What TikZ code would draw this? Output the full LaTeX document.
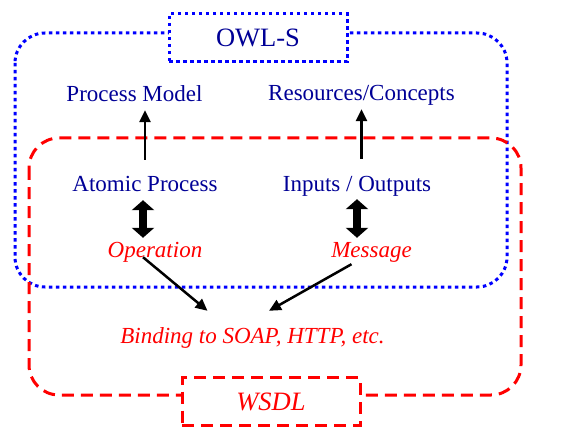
\documentclass[tikz,border=0pt]{standalone}
\usepackage{fontspec}
\setmainfont{Liberation Serif}
\usetikzlibrary{arrows.meta}
\definecolor{owlline}{RGB}{0,0,255}
\definecolor{owltext}{RGB}{0,0,150}
\definecolor{wsdlred}{RGB}{255,0,0}

\begin{document}
\begin{tikzpicture}[x=1pt,y=-1pt,
  owlframe/.style={draw=owlline,line width=3pt,dash pattern=on 3.5pt off 3.5pt},
  wsdlframe/.style={draw=wsdlred,line width=3pt,dash pattern=on 12pt off 7pt},
  owllabel/.style={text=owltext,font=\fontsize{23}{27}\selectfont,anchor=base,
    text height=17pt,text depth=5pt,inner sep=3pt},
  wsdllabel/.style={owllabel,text=wsdlred,font=\fontsize{23}{27}\selectfont\itshape},
  titlebox/.style={fill=white,minimum width=178pt,minimum height=48pt,inner sep=0pt,
    font=\fontsize{26.5}{30}\selectfont},
  thinarrow/.style={line width=2.5pt,-{Triangle[length=12pt,width=11pt]}},
  bigarrow/.style={line width=8pt,{Triangle[length=10pt,width=22pt]}-{Triangle[length=10pt,width=22pt]}}]
\useasboundingbox (0,0) rectangle (582,428);

% the two frames
\draw[owlframe,rounded corners=30pt] (15,33) rectangle (507,287);
\draw[wsdlframe,rounded corners=30pt] (29,138) rectangle (521,395);

\node[titlebox,owlframe,text=owltext] (owls) at (258,38) {OWL-S};
\node[titlebox,wsdlframe,text=wsdlred,font=\fontsize{26.5}{30}\selectfont\itshape] (wsdl) at (271,401.5) {WSDL};

% labels
\node[owllabel] (model) at (134.5,102) {Process Model};
\node[owllabel] (concepts) at (361.5,101) {Resources/Concepts};
\node[owllabel] (atomic) at (145,192) {Atomic Process};
\node[owllabel] (inout) at (357,191) {Inputs / Outputs};
\node[wsdllabel] (operation) at (155,258) {Operation};
\node[wsdllabel] (message) at (371.5,258) {Message};
\node[wsdllabel] (binding) at (252.5,343) {Binding to SOAP, HTTP, etc.};

% connectors
\draw[thinarrow] ([yshift=12pt]atomic.north) -- (atomic.north |- model.south);
\draw[thinarrow] ([yshift=12pt]concepts.south |- inout.north) -- (concepts.south);
\draw[bigarrow] ([xshift=-2pt]atomic.south) -- ([xshift=-2pt]atomic.south |- operation.north);
\draw[bigarrow] (inout.south) -- (inout.south |- message.north);
\draw[thinarrow] ([xshift=-12pt,yshift=9pt]operation.south) -- ([xshift=-45pt,yshift=12pt]binding.north);
\draw[thinarrow] ([xshift=-20pt,yshift=2pt]message.south) -- ([xshift=16.5pt,yshift=12pt]binding.north);
\end{tikzpicture}
\end{document}
